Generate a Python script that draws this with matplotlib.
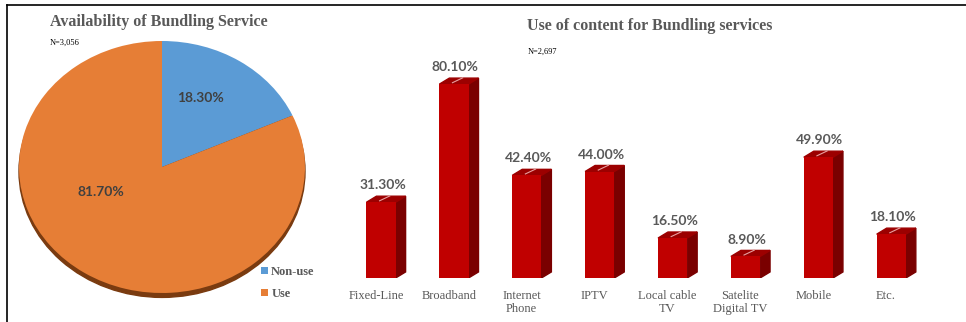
import numpy as np
import matplotlib
matplotlib.use("Agg")
import matplotlib.pyplot as plt
from matplotlib.patches import Polygon, Ellipse, Patch
from matplotlib.lines import Line2D

# pie data
pie_labels = ["Non-use", "Use"]
pie_values = [18.3, 81.7]
pie_colors = ["#5B9BD5", "#E67E36"]

# bar data
categories = ["Fixed-Line", "Broadband", "Internet\nPhone", "IPTV",
              "Local cable\nTV", "Satelite\nDigital TV", "Mobile", "Etc."]
usage = [31.3, 80.1, 42.4, 44.0, 16.5, 8.9, 49.9, 18.1]

serif = "Liberation Serif"
sans = "Lato"
gray = "#595959"

fig = plt.figure(figsize=(9.66, 3.22), dpi=100)

# frame lines (top and left)
fig.add_artist(Line2D([7 / 966, 1], [1 - 5 / 322, 1 - 5 / 322], color="black", lw=1.2))
fig.add_artist(Line2D([7 / 966, 7 / 966], [0, 1 - 5 / 322], color="black", lw=1.2))

# ---- pie ----
ax_pie = fig.add_axes([19 / 966, 29 / 322, 286 / 966, 252 / 322])
ax_pie.add_patch(Ellipse((0.0, -0.035), 2.0, 2.0, color="#7A3B10", zorder=0, clip_on=False))
wedges, texts, autotexts = ax_pie.pie(
    pie_values, colors=pie_colors, startangle=90, counterclock=False,
    autopct="%.2f%%", pctdistance=0.6,
    textprops=dict(family=sans, fontweight="bold", fontsize=10, color="#404040"))
for w in wedges:
    w.set_zorder(1)
autotexts[0].set_position((0.27, 0.55))
autotexts[1].set_position((-0.43, -0.2))
ax_pie.set_xlim(-1, 1)
ax_pie.set_ylim(-1, 1)
ax_pie.set_aspect("auto")
ax_pie.axis("off")

fig.text(50 / 966, 1 - 22 / 322, "Availability of Bundling Service", family=serif,
         fontweight="bold", fontsize=11.5, color=gray, va="center")
fig.text(50 / 966, 1 - 43 / 322, "N=3,056", family=serif, fontsize=6, color="black", va="center")

handles = [Patch(facecolor=c) for c in pie_colors]
fig.legend(handles, pie_labels, loc="center left", bbox_to_anchor=(250 / 966, 1 - 283 / 322),
           frameon=False, handlelength=0.5, handleheight=0.5, handletextpad=0.3,
           labelspacing=0.8, prop=dict(family=serif, weight="bold", size=9),
           labelcolor=gray)

# ---- 3D-looking bars ----
ax = fig.add_axes([337.3 / 966, 44 / 322, 597.7 / 966, 242 / 322])
x = np.arange(len(categories))
bw = 0.4
dx, dy = 0.137, 2.5
ax.bar(x, usage, width=bw, color="#C00000", zorder=2)
for xi, v in zip(x, usage):
    r = xi + bw / 2
    l = xi - bw / 2
    ax.add_patch(Polygon([(r, 0), (r + dx, dy), (r + dx, v + dy), (r, v)],
                         closed=True, color="#7A0000", zorder=1))
    ax.add_patch(Polygon([(l, v), (r, v), (r + dx, v + dy), (l + dx, v + dy)],
                         closed=True, color="#9C0000", zorder=1))
    ax.plot([xi - 0.02, xi + 0.12], [v + 0.6, v + 2.6], color="#E8A0A0", lw=0.8, zorder=3)
    ax.text(xi + 0.02, v + 7, f"{v:.2f}%", ha="center", va="center", family=sans,
            fontweight="bold", fontsize=10, color=gray)
    ax.text(xi - 0.07, -5, categories[xi], ha="center", va="top", family=serif,
            fontsize=9, color=gray, linespacing=1.1)
ax.set_xlim(-0.6, 7.6)
ax.set_ylim(0, 100)
ax.axis("off")

fig.text(650 / 966, 1 - 26 / 322, "Use of content for Bundling services", family=serif,
         fontweight="bold", fontsize=11.5, color=gray, ha="center", va="center")
fig.text(528 / 966, 1 - 52 / 322, "N=2,697", family=serif, fontsize=6, color="black", va="center")

fig.savefig("out.png", dpi=100)
